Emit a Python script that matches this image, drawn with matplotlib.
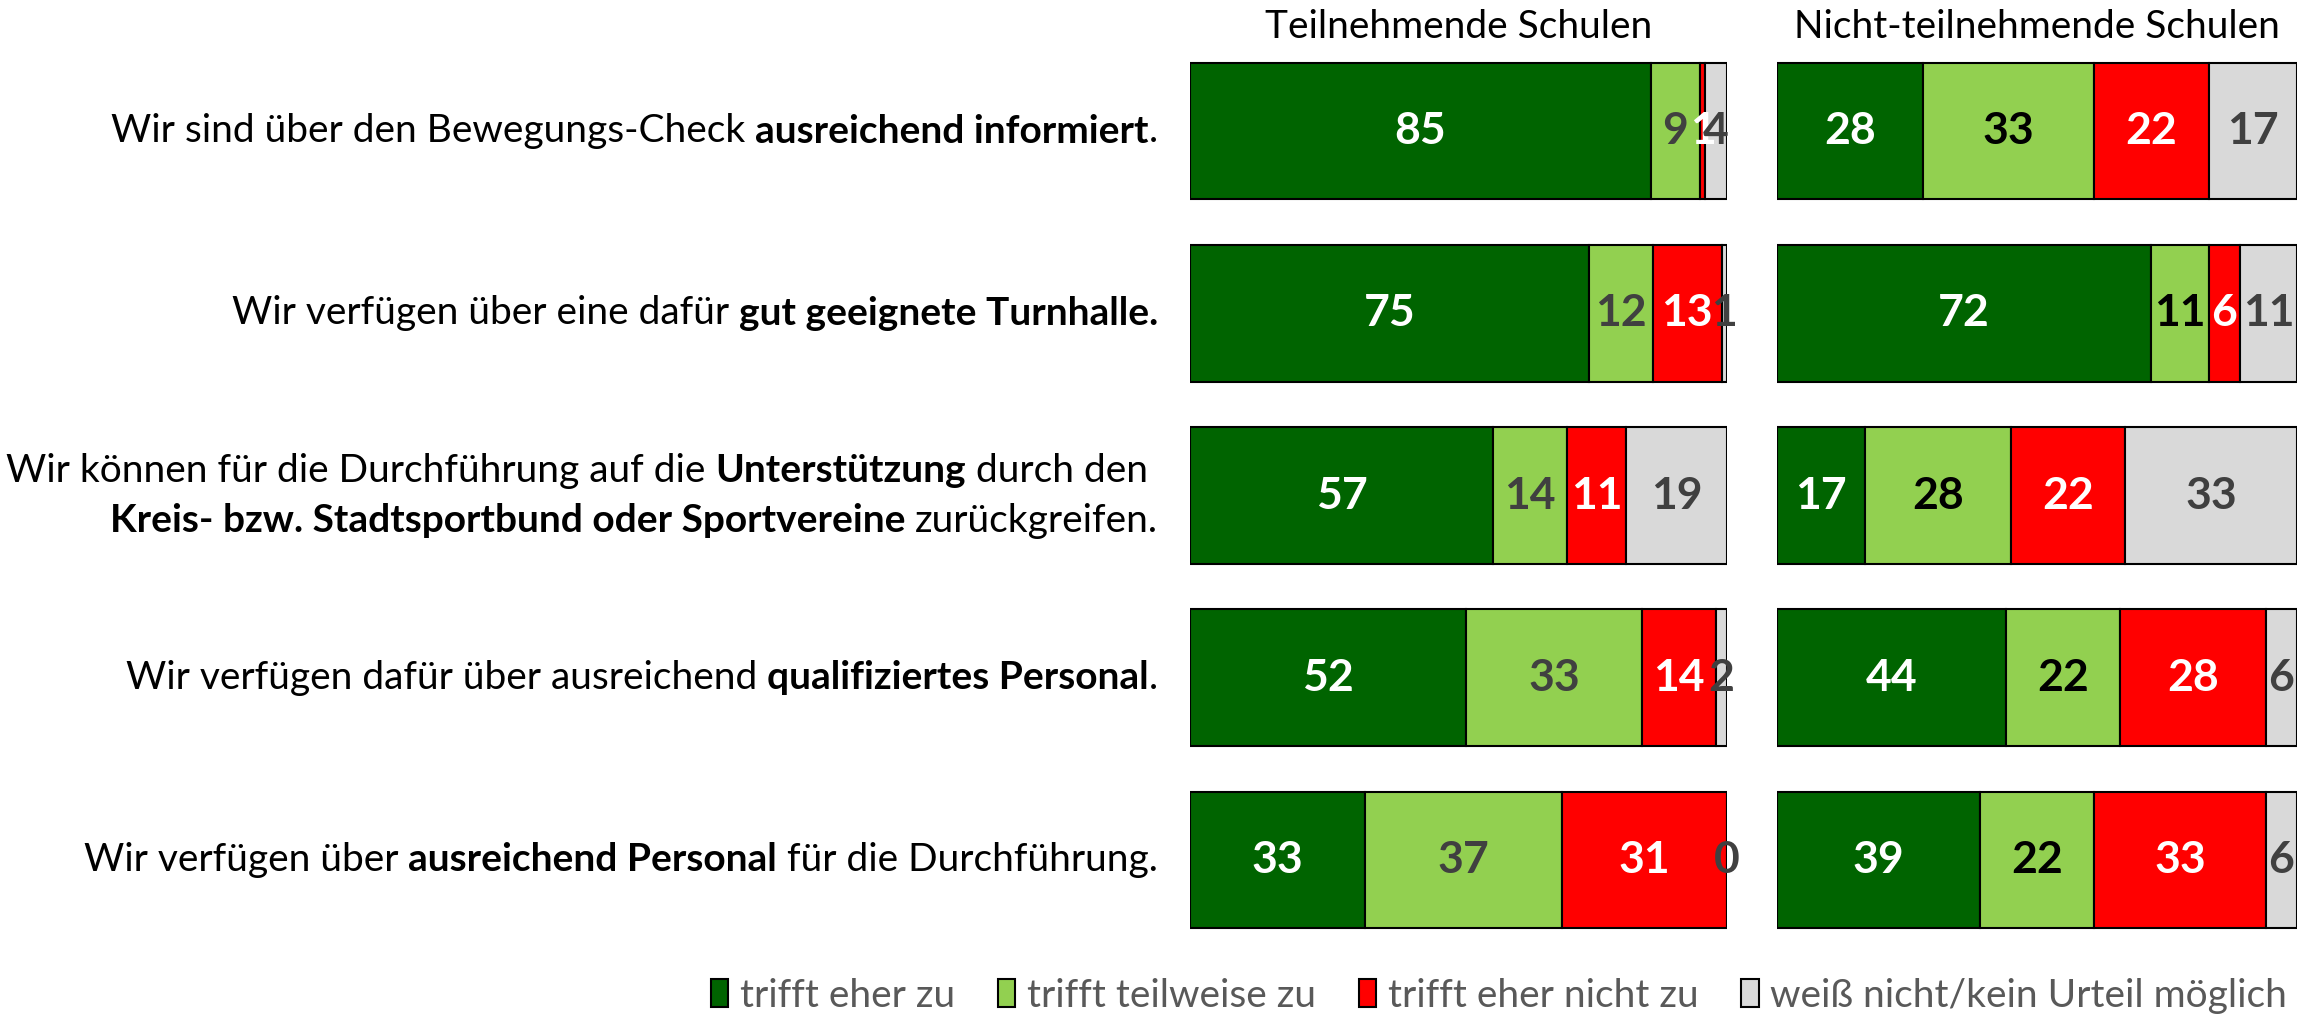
import matplotlib
matplotlib.use("Agg")
import matplotlib.pyplot as plt
from matplotlib.patches import Patch
import numpy as np

FONT = "Lato"
plt.rcParams['font.family'] = [FONT, 'DejaVu Sans']

series = ["trifft eher zu", "trifft teilweise zu", "trifft eher nicht zu",
          "weiß nicht/kein Urteil möglich"]
colors = ["#006400", "#92D050", "#FF0000", "#D9D9D9"]
panel_titles = ["Teilnehmende Schulen", "Nicht-teilnehmende Schulen"]

# rows top -> bottom, values per series
teil_eher_zu = [85, 75, 57, 52, 33]
teil_teilweise = [9, 12, 14, 33, 37]
teil_nicht = [1, 13, 11, 14, 31]
teil_weiss = [4, 1, 19, 2, 0]

nicht_eher_zu = [28, 72, 17, 44, 39]
nicht_teilweise = [33, 11, 28, 22, 22]
nicht_nicht = [22, 6, 22, 28, 33]
nicht_weiss = [17, 11, 33, 6, 6]

# category labels: list of lines, each line a list of (text, bold)
categories = [
    [[("Wir sind über den Bewegungs-Check ", False), ("ausreichend informiert", True), (".", False)]],
    [[("Wir verfügen über eine dafür ", False), ("gut geeignete Turnhalle.", True)]],
    [[("Wir können für die Durchführung auf die ", False), ("Unterstützung", True), (" durch den ", False)],
     [("Kreis- bzw. Stadtsportbund oder Sportvereine", True), (" zurückgreifen.", False)]],
    [[("Wir verfügen dafür über ausreichend ", False), ("qualifiziertes Personal", True), (".", False)]],
    [[("Wir verfügen über ", False), ("ausreichend Personal", True), (" für die Durchführung.", False)]],
]

W, H = 2313, 1016
fig = plt.figure(figsize=(W / 100, H / 100), dpi=100)

bottom, top = 0.064, 0.9606
ax_l = fig.add_axes([1190 / W, bottom, (1727 - 1190) / W, top - bottom])
ax_r = fig.add_axes([1777 / W, bottom, (2297 - 1777) / W, top - bottom])

panels = [
    (ax_l, [teil_eher_zu, teil_teilweise, teil_nicht, teil_weiss],
     ["white", "#404040", "white", "#404040"]),
    (ax_r, [nicht_eher_zu, nicht_teilweise, nicht_nicht, nicht_weiss],
     ["white", "black", "white", "#404040"]),
]

n = len(teil_eher_zu)
y = np.arange(n)
for (ax, vals, lcols), title in zip(panels, panel_titles):
    arr = np.array(vals, dtype=float)
    tot = arr.sum(axis=0)
    pct = arr / tot * 100
    left = np.zeros(n)
    for k in range(4):
        ax.barh(y, pct[k], left=left, height=0.75, color=colors[k],
                edgecolor="black", linewidth=1.5)
        for i in range(n):
            ax.text(left[i] + pct[k][i] / 2, y[i], f"{int(arr[k][i])}",
                    ha="center", va="center", fontsize=32, fontweight="bold",
                    color=lcols[k])
        left += pct[k]
    ax.set_xlim(0, 100)
    ax.set_ylim(n - 0.5, -0.5)
    ax.axis("off")
    pos = ax.get_position()
    fig.text((pos.x0 + pos.x1) / 2, 0.973, title, ha="center", va="center",
             fontsize=28, color="black")

# category labels with mixed weights
renderer = fig.canvas.get_renderer()
CAT_FS = 28


def width_of(s, bold):
    t = fig.text(0, 0, s, fontsize=CAT_FS, fontweight="bold" if bold else "normal")
    w = t.get_window_extent(renderer).width
    t.remove()
    return w


bar_w = {b: width_of("||", b) for b in (False, True)}


def adv(s, bold):
    return width_of("|" + s + "|", bold) - bar_w[bold]


x_right = 1158
row_centers_px = [ax_l.transData.transform((0, yy))[1] for yy in y]
line_gap = 50
for i, lines in enumerate(categories):
    nl = len(lines)
    for j, pieces in enumerate(lines):
        ypx = row_centers_px[i] + (nl - 1) / 2 * line_gap - j * line_gap
        total = sum(adv(s, b) for s, b in pieces)
        x = x_right - total
        for s, b in pieces:
            lead = len(s) - len(s.lstrip(" "))
            txt = s.strip(" ")
            off = adv(" " * lead, b) if lead else 0
            if txt:
                fig.text((x + off) / W, ypx / H, txt, ha="left", va="center",
                         fontsize=CAT_FS, fontweight="bold" if b else "normal",
                         color="black")
            x += adv(s, b)

handles = [Patch(facecolor=c, edgecolor="black", linewidth=1.5) for c in colors]
leg = fig.legend(handles, series, loc="center", bbox_to_anchor=(0.648, 0.02),
                 ncol=4, frameon=False, fontsize=28, handlelength=0.45,
                 handleheight=0.7, handletextpad=0.3, columnspacing=1.1)
for t in leg.get_texts():
    t.set_color("#595959")

fig.savefig("out.png", dpi=100)
